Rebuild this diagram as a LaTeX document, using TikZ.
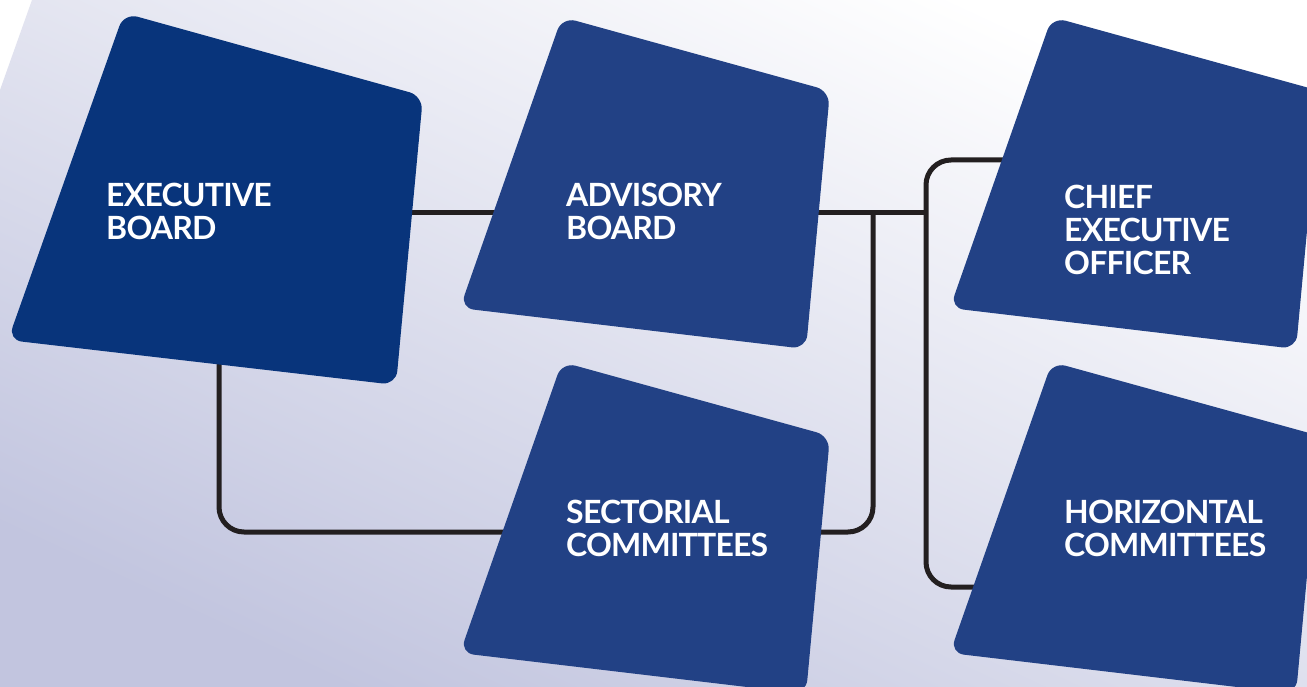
\documentclass[tikz,border=0pt]{standalone}
\usepackage{fontspec}
\setmainfont{Lato}
\newfontfamily\labelfont[LetterSpace=-2.5]{Lato}
\definecolor{BoardColor}{RGB}{8,52,123}
\definecolor{PanelColor}{RGB}{34,65,133}
\definecolor{LinkColor}{RGB}{35,31,32}
\definecolor{BackLow}{RGB}{194,197,223}
\usepackage{tikz}
\usetikzlibrary{positioning, calc}
\tikzstyle{link} = [line width=5pt, LinkColor, rounded corners=25pt]
\tikzstyle{label} = [anchor=north west, inner sep=0pt, align=left, text=white, font=\labelfont\fontsize{32}{33}\selectfont\bfseries]
\tikzstyle{panel} = [rounded corners=14pt]
\newcommand{\panelshape}[2]{%
  \fill[panel, #2, shift={#1}] (562,17) -- (830,91) -- (806,349) -- (460,308) -- cycle;}
\begin{document}
\begin{tikzpicture}[x=1pt, y=-1pt]
      \useasboundingbox (0,0) rectangle (1307,687);
      % Background
      \fill[white] (0,0) rectangle (1307,687);
      \shade[top color=white, bottom color=BackLow, shading angle=-25]
        (32,0) -- (1307,0) -- (1307,687) -- (0,687) -- (0,90) -- cycle;

      % Connection points
      \coordinate (exec-hub) at (219,213);
      \coordinate (adv-hub) at (650,213);
      \coordinate (tap) at (873,213);
      \coordinate (split) at (926,213);
      \coordinate (sect-hub) at (700,532);
      \coordinate (ceo-hub) at (1150,160);
      \coordinate (horiz-hub) at (1150,587);

      % Connections
      \draw[link] (exec-hub) -- (adv-hub) -- (split);
      \draw[link] (exec-hub) |- (sect-hub);
      \draw[link] (tap) |- (sect-hub);
      \draw[link] (ceo-hub) -| (split) |- (horiz-hub);

      % Panels
      \fill[panel, BoardColor] (124,13) -- (423,96) -- (396,385) -- (8,340) -- cycle;
      \panelshape{(0,0)}{PanelColor}
      \panelshape{(490,0)}{PanelColor}
      \panelshape{(0,345)}{PanelColor}
      \panelshape{(490,345)}{PanelColor}

      % Labels
      \node[label] (exec) at (106,183) {EXECUTIVE\\BOARD};
      \node[label] (adv) at (566,183) {ADVISORY\\BOARD};
      \node[label] (ceo) at (1064,185) {CHIEF\\EXECUTIVE\\OFFICER};
      \node[label] (sect) at (566,500) {SECTORIAL\\COMMITTEES};
      \node[label] (horiz) at (1064,500) {HORIZONTAL\\COMMITTEES};
    \end{tikzpicture}
\end{document}
